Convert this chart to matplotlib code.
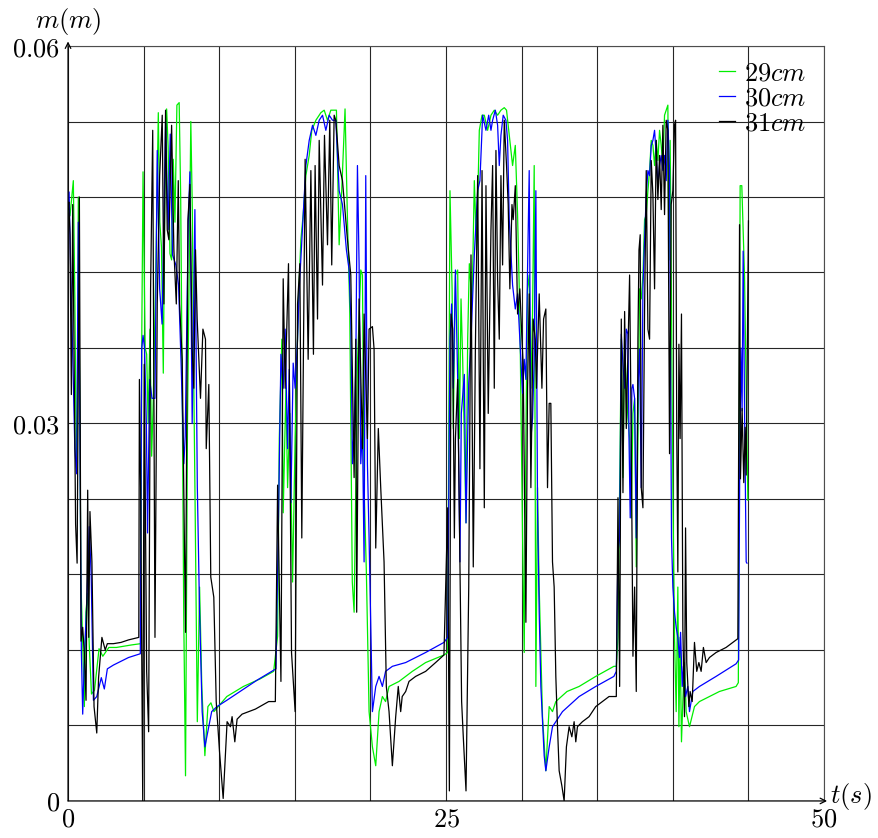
import matplotlib
matplotlib.use("Agg")
import matplotlib.pyplot as plt
import numpy as np

# data (time in s, m in m)
t_29 = [0.00, 0.05, 0.13, 0.35, 0.45, 0.55, 0.62, 0.68, 0.75, 0.85, 0.97, 1.08, 1.18, 1.29, 1.40, 1.55, 1.75, 2.05, 2.30, 2.70, 3.20, 3.70, 4.20, 4.80,
        4.88, 4.96, 5.10, 5.20, 5.30, 5.42, 5.53, 5.64, 5.80, 5.97, 6.07, 6.18, 6.30, 6.40, 6.52, 6.62, 6.74, 6.85, 6.96, 7.07, 7.20, 7.35, 7.45, 7.55,
        7.65, 7.77, 7.90, 8.12, 8.22, 8.30, 8.40, 8.55, 8.70, 8.85, 9.05, 9.25, 9.45, 9.65, 10.5, 11.6, 12.7, 13.6, 13.86,
        13.97, 14.14, 14.23, 14.41, 14.52, 14.67, 14.85, 15.02, 15.24, 15.40, 15.55, 15.73, 15.95, 16.12, 16.39, 16.72, 16.94, 17.16, 17.38, 17.60,
        17.75, 17.93, 18.10, 18.32, 18.48, 18.63, 18.80, 18.92, 19.03, 19.14, 19.25, 19.36, 19.47, 19.58, 19.73, 19.91, 20.13, 20.35, 20.57, 20.79,
        21.00, 21.23, 21.89, 22.77, 23.65, 24.86,
        25.11, 25.26, 25.40, 25.48, 25.62, 25.77, 25.88, 25.99, 26.10, 26.21, 26.32, 26.43, 26.54, 26.72, 26.87, 27.02, 27.20, 27.38, 27.53, 27.75,
        27.97, 28.19, 28.41, 28.63, 28.85, 29.00, 29.18, 29.40, 29.58, 29.73, 29.88, 30.06, 30.17, 30.28, 30.39, 30.50, 30.61, 30.72, 30.83, 30.94,
        31.05, 31.16, 31.38, 31.60, 31.82, 32.04, 32.26, 33.00, 33.80, 34.90, 36.10,
        36.26, 36.37, 36.48, 36.59, 36.70, 36.81, 36.92, 37.03, 37.14, 37.25, 37.36, 37.47, 37.58, 37.69, 37.80, 37.91, 38.02, 38.13, 38.24, 38.35,
        38.46, 38.57, 38.68, 38.79, 38.90, 39.01, 39.12, 39.23, 39.34, 39.45, 39.56, 39.67, 39.74, 39.82, 39.89, 40.00, 40.11, 40.22, 40.33, 40.40,
        40.48, 40.57, 40.66, 40.77, 40.88, 41.10, 41.43, 41.76, 42.42, 43.08, 44.18, 44.33, 44.45, 44.56, 44.74, 44.96]
m_29 = [0.0475, 0.0470, 0.0465, 0.0493, 0.0400, 0.0265, 0.0300, 0.0480, 0.0360, 0.0175, 0.0125, 0.0075, 0.0150, 0.0165, 0.0125, 0.0085, 0.0088, 0.0121, 0.0115, 0.0122, 0.0122, 0.0123, 0.0124, 0.0125,
        0.0375, 0.0500, 0.0360, 0.0355, 0.0300, 0.0375, 0.0274, 0.0320, 0.0420, 0.0547, 0.0460, 0.0440, 0.0340, 0.0480, 0.0550, 0.0520, 0.0435, 0.0430, 0.0510, 0.0460, 0.0553, 0.0555, 0.0480, 0.0330,
        0.0150, 0.0020, 0.0300, 0.0540, 0.0470, 0.0350, 0.0240, 0.0063, 0.0170, 0.0090, 0.0036, 0.0075, 0.0078, 0.0071, 0.0083, 0.0091, 0.0097, 0.0103, 0.0131,
        0.0288, 0.0367, 0.0229, 0.0328, 0.0249, 0.0308, 0.0174, 0.0288, 0.0399, 0.0446, 0.0466, 0.0497, 0.0513, 0.0533, 0.0541, 0.0547, 0.0549, 0.0541, 0.0549, 0.0549,
        0.0549, 0.0442, 0.0485, 0.0550, 0.0462, 0.0391, 0.0174, 0.0150, 0.0249, 0.0348, 0.0383, 0.0422, 0.0418, 0.0249, 0.0182, 0.0071, 0.0043, 0.0028, 0.0071, 0.0083,
        0.0079, 0.0091, 0.0095, 0.0103, 0.0110, 0.0116,
        0.0118, 0.0485, 0.0407, 0.0296, 0.0418, 0.0422, 0.0288, 0.0399, 0.0351, 0.0288, 0.0221, 0.0367, 0.0427, 0.0395, 0.0493, 0.0438, 0.0533, 0.0545, 0.0545, 0.0533,
        0.0545, 0.0549, 0.0545, 0.0549, 0.0551, 0.0549, 0.0529, 0.0505, 0.0521, 0.0466, 0.0387, 0.0210, 0.0118, 0.0288, 0.0407, 0.0418, 0.0328, 0.0387, 0.0505, 0.0091,
        0.0249, 0.0170, 0.0067, 0.0024, 0.0075, 0.0071, 0.0079, 0.0087, 0.0091, 0.0099, 0.0107,
        0.0107, 0.0130, 0.0249, 0.0367, 0.0257, 0.0367, 0.0328, 0.0304, 0.0288, 0.0225, 0.0308, 0.0320, 0.0186, 0.0288, 0.0407, 0.0399, 0.0418, 0.0462, 0.0466, 0.0485,
        0.0501, 0.0525, 0.0521, 0.0505, 0.0525, 0.0509, 0.0533, 0.0521, 0.0505, 0.0545, 0.0549, 0.0553, 0.0430, 0.0525, 0.0426, 0.0249, 0.0130, 0.0071, 0.0170, 0.0059,
        0.0130, 0.0047, 0.0079, 0.0110, 0.0071, 0.0059, 0.0075, 0.0079, 0.0083, 0.0087, 0.0091, 0.0094, 0.0489, 0.0489, 0.0417, 0.0239]

t_30 = [0.00, 0.07, 0.18, 0.30, 0.45, 0.57, 0.68, 0.78, 0.88, 0.97, 1.10, 1.25, 1.40, 1.53, 1.68, 1.90, 2.20, 2.40, 2.60, 3.00, 3.50, 4.00, 4.78,
        4.87, 4.96, 5.06, 5.18, 5.26, 5.40, 5.55, 5.75, 5.90, 6.06, 6.22, 6.45, 6.62, 6.76, 6.91, 7.13, 7.31, 7.48, 7.66, 7.75, 7.95, 8.06, 8.21, 8.39,
        8.55, 8.70, 8.87, 9.05, 9.31, 9.50, 9.85, 10.5, 11.5, 12.5, 13.75,
        13.92, 14.08, 14.23, 14.36, 14.52, 14.63, 14.74, 14.89, 15.02, 15.18, 15.29, 15.57, 15.73, 15.95, 16.17, 16.39, 16.61, 16.83, 17.05, 17.27,
        17.49, 17.71, 17.93, 18.15, 18.41, 18.59, 18.70, 18.81, 18.92, 19.03, 19.14, 19.25, 19.36, 19.47, 19.58, 19.69, 19.80, 19.91, 20.13, 20.35,
        20.57, 20.79, 21.00, 21.45, 22.33, 23.65, 24.86,
        25.11, 25.26, 25.37, 25.48, 25.62, 25.77, 25.92, 26.01, 26.21, 26.32, 26.50, 26.65, 26.87, 27.09, 27.24, 27.42, 27.64, 27.82, 27.97, 28.08,
        28.26, 28.41, 28.52, 28.63, 28.78, 28.96, 29.07, 29.18, 29.40, 29.58, 29.73, 29.88, 30.06, 30.17, 30.28, 30.39, 30.50, 30.61, 30.72, 30.83,
        30.94, 31.05, 31.16, 31.27, 31.49, 31.60, 31.82, 32.04, 32.26, 32.70, 33.80, 34.90, 36.10,
        36.26, 36.37, 36.48, 36.59, 36.70, 36.81, 36.92, 37.03, 37.10, 37.18, 37.29, 37.36, 37.47, 37.58, 37.69, 37.80, 37.91, 38.02, 38.13, 38.24,
        38.35, 38.46, 38.57, 38.68, 38.79, 38.90, 39.01, 39.12, 39.23, 39.34, 39.45, 39.56, 39.67, 39.78, 39.85, 39.91, 40.00, 40.11, 40.22, 40.33,
        40.44, 40.51, 40.62, 40.70, 40.84, 40.99, 41.10, 41.32, 41.76, 42.86, 44.18, 44.35, 44.42, 44.50, 44.58, 44.65, 44.75, 44.85, 44.90]
m_30 = [0.0475, 0.0484, 0.0420, 0.0360, 0.0280, 0.0260, 0.0460, 0.0300, 0.0120, 0.0069, 0.0120, 0.0160, 0.0218, 0.0180, 0.0080, 0.0083, 0.0098, 0.0089, 0.0105, 0.0108, 0.0111, 0.0114, 0.0117,
        0.0359, 0.0370, 0.0360, 0.0300, 0.0213, 0.0335, 0.0320, 0.0320, 0.0517, 0.0407, 0.0379, 0.0540, 0.0454, 0.0530, 0.0434, 0.0426, 0.0410, 0.0347, 0.0268, 0.0290, 0.0460, 0.0500, 0.0300, 0.0470,
        0.0250, 0.0150, 0.0071, 0.0043, 0.0059, 0.0071, 0.0075, 0.0080, 0.0088, 0.0096, 0.0105,
        0.0225, 0.0355, 0.0328, 0.0375, 0.0280, 0.0343, 0.0237, 0.0348, 0.0328, 0.0367, 0.0407, 0.0470, 0.0505, 0.0525, 0.0537, 0.0529, 0.0541, 0.0545, 0.0533, 0.0545,
        0.0541, 0.0541, 0.0485, 0.0474, 0.0438, 0.0422, 0.0383, 0.0268, 0.0296, 0.0343, 0.0505, 0.0426, 0.0268, 0.0296, 0.0190, 0.0497, 0.0268, 0.0209, 0.0071, 0.0091,
        0.0099, 0.0091, 0.0103, 0.0107, 0.0110, 0.0118, 0.0126,
        0.0130, 0.0367, 0.0395, 0.0328, 0.0422, 0.0335, 0.0190, 0.0308, 0.0339, 0.0221, 0.0332, 0.0367, 0.0434, 0.0485, 0.0493, 0.0545, 0.0533, 0.0545, 0.0533, 0.0541,
        0.0549, 0.0537, 0.0505, 0.0529, 0.0545, 0.0541, 0.0525, 0.0462, 0.0410, 0.0391, 0.0403, 0.0367, 0.0324, 0.0351, 0.0335, 0.0422, 0.0501, 0.0288, 0.0304, 0.0351,
        0.0485, 0.0233, 0.0150, 0.0091, 0.0036, 0.0024, 0.0043, 0.0059, 0.0063, 0.0071, 0.0083, 0.0091, 0.0099,
        0.0103, 0.0197, 0.0209, 0.0371, 0.0347, 0.0328, 0.0375, 0.0371, 0.0288, 0.0225, 0.0328, 0.0331, 0.0320, 0.0209, 0.0328, 0.0359, 0.0249, 0.0407, 0.0446, 0.0482,
        0.0501, 0.0497, 0.0521, 0.0525, 0.0533, 0.0513, 0.0489, 0.0505, 0.0513, 0.0501, 0.0513, 0.0493, 0.0541, 0.0501, 0.0347, 0.0209, 0.0170, 0.0150, 0.0138, 0.0130,
        0.0114, 0.0134, 0.0091, 0.0107, 0.0083, 0.0091, 0.0071, 0.0087, 0.0091, 0.0099, 0.0109, 0.0112, 0.0260, 0.0360, 0.0310, 0.0437, 0.0300, 0.0190, 0.0189]

t_31 = [0.00, 0.05, 0.13, 0.22, 0.31, 0.50, 0.60, 0.75, 0.86, 0.97, 1.08, 1.19, 1.30, 1.37, 1.45, 1.58, 1.72, 1.90, 2.02, 2.24, 2.46, 2.60, 3.00, 3.50, 4.00, 4.68,
        4.72, 4.80, 4.94, 5.04, 5.20, 5.33, 5.46, 5.60, 5.75, 5.90, 6.06, 6.23, 6.34, 6.45, 6.56, 6.67, 6.85, 7.00, 7.16, 7.29, 7.38, 7.55, 7.77, 7.93,
        8.06, 8.21, 8.32, 8.43, 8.54, 8.65, 8.76, 8.92, 9.09, 9.14, 9.31, 9.44, 9.64, 9.80, 10.02, 10.26, 10.52, 10.74, 10.85, 11.03, 11.18, 11.51,
        12.39, 13.27, 13.71,
        13.86, 14.08, 14.23, 14.36, 14.58, 14.78, 15.02, 15.18, 15.33, 15.46, 15.68, 15.88, 16.06, 16.23, 16.34, 16.50, 16.61, 16.83, 16.96, 17.16,
        17.31, 17.44, 17.60, 17.71, 17.93, 18.15, 18.48, 18.70, 18.92, 19.03, 19.09, 19.25, 19.47, 19.58, 19.80, 19.91, 20.13, 20.24, 20.35, 20.52,
        20.68, 20.90, 21.05, 21.23, 21.45, 21.67, 21.84, 22.00, 22.10, 22.33, 22.55, 22.99, 23.65, 24.31, 24.86,
        25.11, 25.22, 25.33, 25.44, 25.55, 25.62, 25.77, 25.92, 26.03, 26.14, 26.32, 26.50, 26.65, 26.80, 26.94, 27.09, 27.24, 27.38, 27.53, 27.64,
        27.79, 27.97, 28.08, 28.19, 28.30, 28.41, 28.52, 28.63, 28.74, 28.85, 29.00, 29.11, 29.22, 29.36, 29.44, 29.58, 29.73, 29.88, 30.02, 30.10,
        30.28, 30.39, 30.50, 30.61, 30.76, 30.90, 30.98, 31.16, 31.34, 31.45, 31.60, 31.71, 31.82, 31.93, 32.04, 32.15, 32.26, 32.37, 32.48, 32.66,
        32.81, 32.96, 33.14, 33.32, 33.47, 33.58, 33.69, 34.02, 34.46, 34.90, 35.78,
        36.26, 36.37, 36.48, 36.59, 36.70, 36.81, 36.92, 37.14, 37.25, 37.36, 37.47, 37.58, 37.69, 37.76, 37.84, 37.91, 38.02, 38.13, 38.24, 38.35,
        38.46, 38.57, 38.68, 38.79, 38.90, 39.01, 39.12, 39.23, 39.34, 39.45, 39.56, 39.67, 39.78, 39.89, 40.00, 40.11, 40.18, 40.26, 40.33, 40.40,
        40.48, 40.57, 40.66, 40.77, 40.84, 40.92, 41.06, 41.14, 41.28, 41.43, 41.58, 41.72, 41.87, 42.02, 42.20, 42.42, 42.86, 43.52, 44.18, 44.30,
        44.41, 44.47, 44.58, 44.69, 44.78, 44.85, 45.00]
m_31 = [0.0470, 0.0476, 0.0450, 0.0323, 0.0474, 0.0220, 0.0189, 0.0480, 0.0127, 0.0138, 0.0117, 0.0080, 0.0247, 0.0130, 0.0230, 0.0190, 0.0075, 0.0054, 0.0098, 0.0130, 0.0120, 0.0125, 0.0125, 0.0126, 0.0128, 0.0130,
        0.0335, 0.0250, 0.0000, 0.0347, 0.0103, 0.0055, 0.0407, 0.0533, 0.0130, 0.0395, 0.0497, 0.0545, 0.0395, 0.0549, 0.0454, 0.0446, 0.0537, 0.0438, 0.0395, 0.0493, 0.0395, 0.0351, 0.0134, 0.0462,
        0.0490, 0.0359, 0.0328, 0.0438, 0.0383, 0.0351, 0.0320, 0.0375, 0.0367, 0.0280, 0.0331, 0.0178, 0.0162, 0.0079, 0.0039, 0.0002, 0.0063, 0.0059, 0.0067, 0.0047, 0.0065, 0.0069,
        0.0073, 0.0079, 0.0079,
        0.0251, 0.0095, 0.0415, 0.0328, 0.0427, 0.0118, 0.0071, 0.0395, 0.0427, 0.0209, 0.0510, 0.0351, 0.0501, 0.0355, 0.0505, 0.0383, 0.0525, 0.0410, 0.0529, 0.0442,
        0.0541, 0.0426, 0.0545, 0.0541, 0.0505, 0.0493, 0.0446, 0.0418, 0.0257, 0.0367, 0.0150, 0.0399, 0.0280, 0.0387, 0.0288, 0.0375, 0.0377, 0.0359, 0.0201, 0.0296,
        0.0249, 0.0190, 0.0091, 0.0071, 0.0028, 0.0067, 0.0091, 0.0071, 0.0083, 0.0087, 0.0095, 0.0099, 0.0103, 0.0110, 0.0116,
        0.0233, 0.0008, 0.0387, 0.0375, 0.0209, 0.0288, 0.0335, 0.0190, 0.0079, 0.0051, 0.0008, 0.0170, 0.0434, 0.0186, 0.0359, 0.0497, 0.0264, 0.0501, 0.0233, 0.0489,
        0.0308, 0.0454, 0.0505, 0.0328, 0.0517, 0.0414, 0.0367, 0.0497, 0.0426, 0.0541, 0.0505, 0.0474, 0.0407, 0.0474, 0.0462, 0.0489, 0.0387, 0.0407, 0.0367, 0.0347,
        0.0142, 0.0328, 0.0403, 0.0249, 0.0383, 0.0367, 0.0328, 0.0403, 0.0328, 0.0383, 0.0391, 0.0249, 0.0316, 0.0316, 0.0190, 0.0170, 0.0099, 0.0059, 0.0024, 0.0012,
        0.0000, 0.0043, 0.0059, 0.0051, 0.0063, 0.0047, 0.0059, 0.0063, 0.0067, 0.0075, 0.0083,
        0.0083, 0.0241, 0.0091, 0.0383, 0.0245, 0.0389, 0.0296, 0.0418, 0.0288, 0.0115, 0.0170, 0.0087, 0.0367, 0.0438, 0.0450, 0.0249, 0.0233, 0.0391, 0.0501, 0.0375,
        0.0367, 0.0509, 0.0482, 0.0407, 0.0525, 0.0478, 0.0513, 0.0470, 0.0537, 0.0466, 0.0541, 0.0533, 0.0276, 0.0474, 0.0485, 0.0537, 0.0541, 0.0288, 0.0182, 0.0363,
        0.0288, 0.0387, 0.0138, 0.0067, 0.0217, 0.0110, 0.0075, 0.0087, 0.0079, 0.0126, 0.0103, 0.0110, 0.0103, 0.0122, 0.0110, 0.0114, 0.0118, 0.0122, 0.0128, 0.0129,
        0.0458, 0.0256, 0.0312, 0.0253, 0.0297, 0.0259, 0.0461]

labels = ["$29cm$", "$30cm$", "$31cm$"]
colors = ["#00ee00", "#0000ff", "#000000"]

x_ticks = [0, 25, 50]
y_ticks = [0, 0.03, 0.06]
x_tick_labels = ["$0$", "$25$", "$50$"]
y_tick_labels = ["$0$", "$0.03$", "$0.06$"]

plt.rcParams["mathtext.fontset"] = "cm"
plt.rcParams["font.family"] = "DejaVu Serif"

fig = plt.figure(figsize=(8.79, 8.38), dpi=100)
ax = fig.add_axes([0.0774, 0.0442, 0.8601, 0.9009])

for t, m, lab, c in zip([t_29, t_30, t_31], [m_29, m_30, m_31], labels, colors):
    ax.plot(t, m, color=c, lw=0.9, label=lab)

ax.set_xlim(0, 50)
ax.set_ylim(0, 0.06)
ax.set_xticks(x_ticks)
ax.set_xticklabels(x_tick_labels)
ax.set_yticks(y_ticks)
ax.set_yticklabels(y_tick_labels)
ax.set_xticks(np.arange(0, 51, 5), minor=True)
ax.set_yticks(np.linspace(0, 0.06, 11), minor=True)
ax.tick_params(which="both", length=0, labelsize=19)
ax.tick_params(axis="x", pad=4)
ax.tick_params(axis="y", pad=6)
ax.grid(which="both", color="0.15", lw=0.8)
ax.set_axisbelow(True)

for s in ["top", "right"]:
    ax.spines[s].set_color("0.3")
    ax.spines[s].set_linewidth(0.8)
for s in ["left", "bottom"]:
    ax.spines[s].set_visible(False)
# axis lines with arrow heads
ax.annotate("", xy=(1.004, 0), xytext=(0, 0), xycoords="axes fraction",
            arrowprops=dict(arrowstyle="->", lw=0.9, color="k", shrinkA=0, shrinkB=0))
ax.annotate("", xy=(0, 1.006), xytext=(0, 0), xycoords="axes fraction",
            arrowprops=dict(arrowstyle="->", lw=0.9, color="k", shrinkA=0, shrinkB=0))

ax.text(0, 1.012, "$m(m)$", transform=ax.transAxes, ha="center", va="bottom", fontsize=19)
ax.text(1.008, 0.006, "$t(s)$", transform=ax.transAxes, ha="left", va="center", fontsize=19)

ax.legend(loc="upper right", bbox_to_anchor=(0.994, 0.998), frameon=False, fontsize=19,
          handlelength=0.6, handletextpad=0.35, labelspacing=0.0, borderpad=0.0)

fig.savefig("out.png", dpi=100)
